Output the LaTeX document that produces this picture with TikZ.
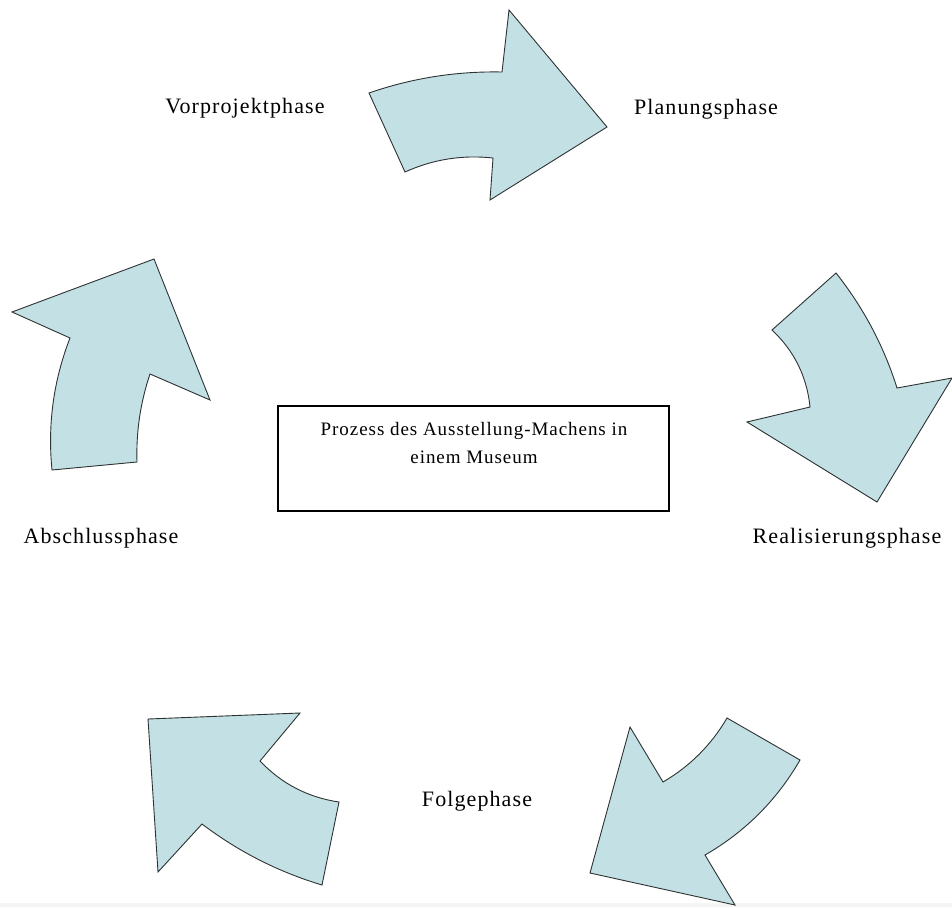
\documentclass[tikz,border=0pt]{standalone}
\usepackage{fontspec}
\setmainfont{Liberation Serif}[LetterSpace=5]
\definecolor{arrowfill}{RGB}{195,224,229}
\definecolor{arrowline}{RGB}{45,50,50}
\begin{document}
\begin{tikzpicture}[x=1pt,y=-1pt,
  carrow/.style={fill=arrowfill,draw=arrowline,line width=0.9pt,line join=miter},
  lbl/.style={anchor=base,inner sep=0pt,font=\fontsize{22}{26}\selectfont},
  boxtxt/.style={anchor=base,inner sep=0pt,font=\fontsize{19}{23}\selectfont},
  titlebox/.style={draw=black,line width=1.1pt,inner sep=0pt,minimum width=391pt,minimum height=105pt}]
\useasboundingbox (0,0) rectangle (952,907);
\fill[black!4] (0,903) rectangle (952,907);
% top arrow
\draw[carrow] (369,93) .. controls (412.03,78.1) and (456.37,71.1) .. (502,72) -- (509,10) -- (607,127) -- (490,200) -- (493,158) .. controls (462.37,154.67) and (433.03,159.33) .. (405,172) -- cycle;
% right arrow
\draw[carrow] (836,273) -- (772,330) .. controls (794.27,350.97) and (806.93,376.63) .. (810,407) -- (747,422) -- (877,502) -- (952,378) -- (897,388) .. controls (883.77,345.97) and (863.43,307.63) .. (836,273) -- cycle;
% left arrow
\draw[carrow] (52,470) -- (137,462) .. controls (136.03,431.87) and (140.37,402.53) .. (150,374) -- (210,400) -- (154,259) -- (12,312) -- (70,338) .. controls (53.5,380.5) and (47.5,424.5) .. (52,470) -- cycle;
% bottom right arrow
\draw[carrow] (727,718) -- (800,760) .. controls (776.83,800.17) and (745.17,831.83) .. (705,855) -- (735,905) -- (590,873) -- (630,727) -- (663,782) .. controls (689.93,766.27) and (711.27,744.93) .. (727,718) -- cycle;
% bottom left arrow
\draw[carrow] (148,719) -- (300,713) -- (260,761) .. controls (281.63,783.77) and (307.97,797.43) .. (339,802) -- (322,885) .. controls (278.3,871.87) and (238.3,851.53) .. (202,824) -- (158,872) -- cycle;
% central box
\node[titlebox] (box) at (473.5,458.5) {};
\node[boxtxt] (t1) at (474,435) {Prozess des Ausstellung-Machens in};
\node[boxtxt] (t2) at (474,463) {einem Museum};
% labels
\node[lbl] (vor) at (245,113) {Vorprojektphase};
\node[lbl] (plan) at (706,114) {Planungsphase};
\node[lbl] (real) at (847,543) {Realisierungsphase};
\node[lbl] (absch) at (101,543) {Abschlussphase};
\node[lbl] (folge) at (477,806) {Folgephase};
\end{tikzpicture}
\end{document}
